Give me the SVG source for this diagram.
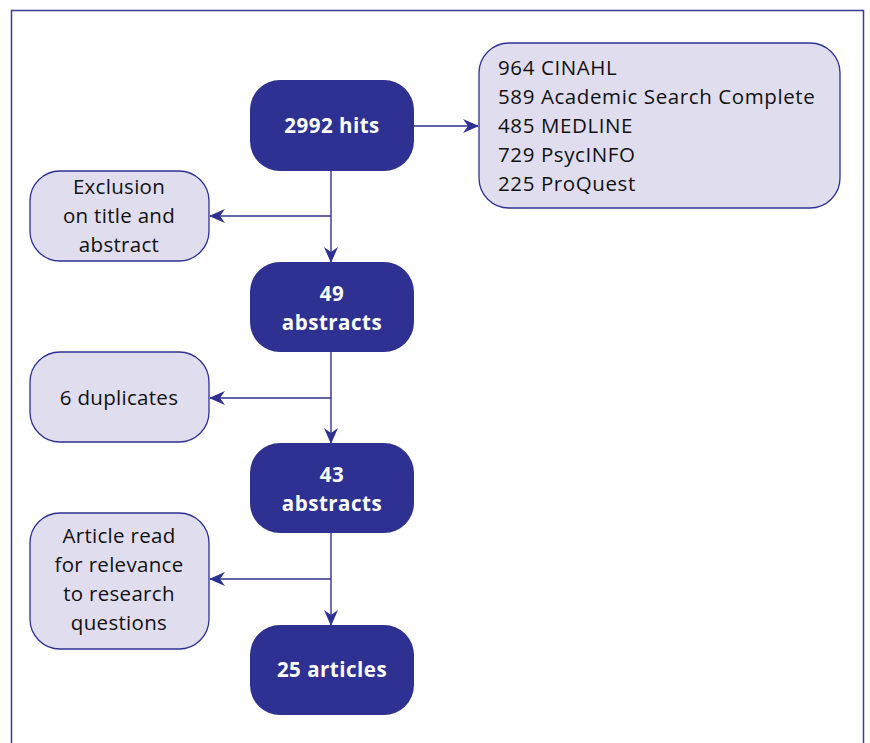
<svg xmlns="http://www.w3.org/2000/svg" width="870" height="743" viewBox="0 0 870 743">
<defs>
<style>
.frame{fill:none;stroke:#3a3a9a;stroke-width:1.5}
.dark{fill:#2e3192}
.light{fill:#e0ddef;stroke:#2e3192;stroke-width:1.3}
.dt{font-family:"Open Sans","Liberation Sans",sans-serif;font-weight:bold;font-size:20.5px;letter-spacing:0.5px;fill:#ffffff;text-anchor:middle}
.lt{font-family:"Open Sans","Liberation Sans",sans-serif;font-size:20.5px;letter-spacing:0.3px;fill:#111111;text-anchor:middle}
.st{font-family:"Open Sans","Liberation Sans",sans-serif;font-size:20.5px;letter-spacing:0.6px;fill:#111111}
.conn{fill:none;stroke:#2e3192;stroke-width:1.4}
</style>
<marker id="ah" viewBox="0 0 16 14" refX="15" refY="7" markerWidth="16" markerHeight="14" markerUnits="userSpaceOnUse" orient="auto">
<path d="M0,0 L16,7 L0,14 L5,7 Z" fill="#2e3192"/>
</marker>
</defs>
<rect width="870" height="743" fill="#ffffff"/>
<path class="frame" d="M11.5,760 V10.5 H863.5 V760"/>
<g id="connectors">
<line class="conn" x1="414" y1="126" x2="478" y2="126" marker-end="url(#ah)"/>
<line class="conn" x1="331" y1="171" x2="331" y2="262" marker-end="url(#ah)"/>
<line class="conn" x1="331" y1="216" x2="210" y2="216" marker-end="url(#ah)"/>
<line class="conn" x1="331" y1="352" x2="331" y2="443" marker-end="url(#ah)"/>
<line class="conn" x1="331" y1="398" x2="210" y2="398" marker-end="url(#ah)"/>
<line class="conn" x1="331" y1="533" x2="331" y2="625" marker-end="url(#ah)"/>
<line class="conn" x1="331" y1="579" x2="210" y2="579" marker-end="url(#ah)"/>
</g>
<g id="n_hits">
<rect class="dark" x="250" y="80" width="164" height="91" rx="30"/>
<text class="dt" x="332" y="133">2992 hits</text>
</g>
<g id="n_sources">
<rect class="light" x="479" y="43" width="361" height="165" rx="30"/>
<text class="st" x="498" y="75">964 CINAHL</text>
<text class="st" x="498" y="104">589 Academic Search Complete</text>
<text class="st" x="498" y="133">485 MEDLINE</text>
<text class="st" x="498" y="162">729 PsycINFO</text>
<text class="st" x="498" y="191">225 ProQuest</text>
</g>
<g id="n_excl">
<rect class="light" x="30" y="171" width="179" height="90" rx="30"/>
<text class="lt" x="119" y="194">Exclusion</text>
<text class="lt" x="119" y="223">on title and</text>
<text class="lt" x="119" y="252">abstract</text>
</g>
<g id="n_49">
<rect class="dark" x="250" y="262" width="164" height="90" rx="30"/>
<text class="dt" x="332" y="301">49</text>
<text class="dt" x="332" y="330">abstracts</text>
</g>
<g id="n_dup">
<rect class="light" x="30" y="352" width="179" height="90" rx="30"/>
<text class="lt" x="119" y="405">6 duplicates</text>
</g>
<g id="n_43">
<rect class="dark" x="250" y="443" width="164" height="90" rx="30"/>
<text class="dt" x="332" y="482">43</text>
<text class="dt" x="332" y="511">abstracts</text>
</g>
<g id="n_read">
<rect class="light" x="30" y="513" width="179" height="136" rx="30"/>
<text class="lt" x="119" y="543">Article read</text>
<text class="lt" x="119" y="572">for relevance</text>
<text class="lt" x="119" y="601">to research</text>
<text class="lt" x="119" y="630">questions</text>
</g>
<g id="n_25">
<rect class="dark" x="250" y="625" width="164" height="90" rx="30"/>
<text class="dt" x="332" y="677">25 articles</text>
</g>
</svg>
